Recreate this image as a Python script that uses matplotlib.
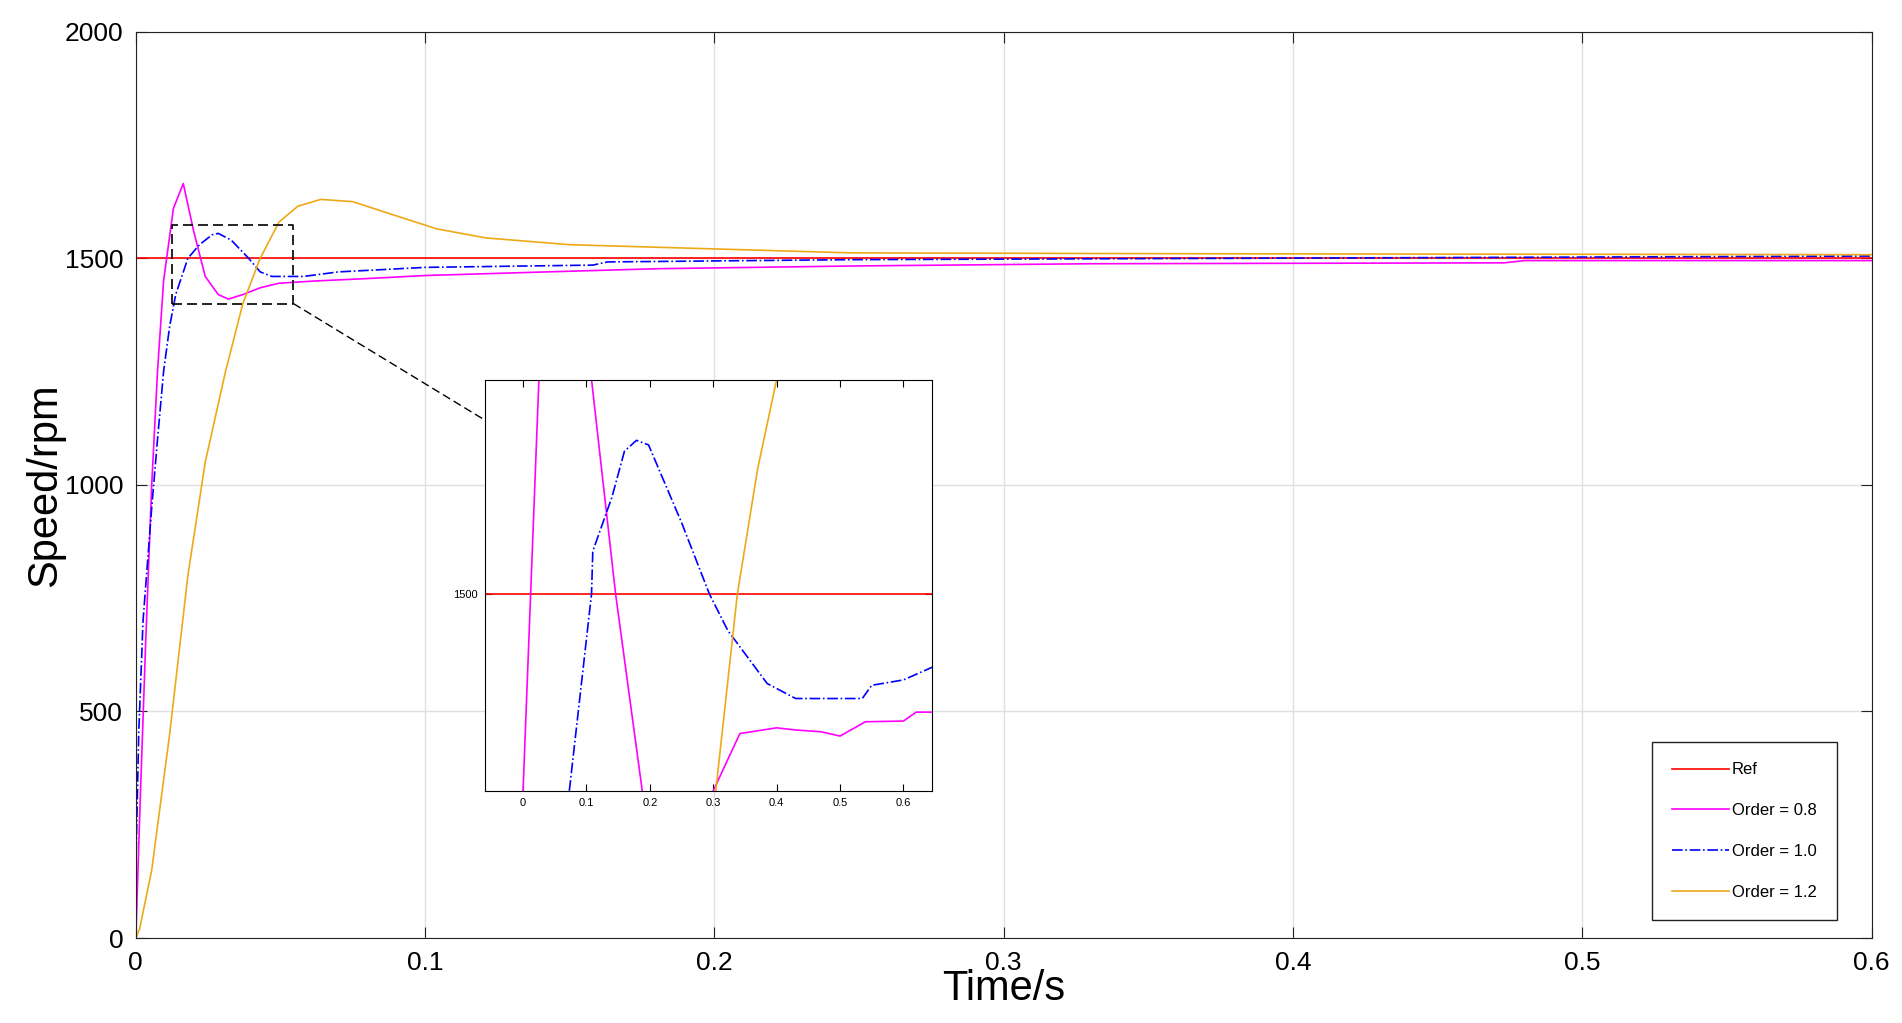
import matplotlib
matplotlib.use("Agg")
import matplotlib.pyplot as plt

plt.rcParams['font.family'] = ['Liberation Sans', 'DejaVu Sans']

# main curves (time in s, speed in rpm)
t_08 = [0, 0.0015, 0.0034, 0.0055, 0.0075, 0.0096, 0.013, 0.0164, 0.020, 0.024, 0.0285,
        0.032, 0.037, 0.043, 0.0495, 0.062, 0.079, 0.10, 0.142, 0.18, 0.247, 0.33,
        0.473, 0.48, 0.6]
v_08 = [0, 300, 650, 1000, 1250, 1450, 1610, 1665, 1560, 1460, 1420,
        1410, 1420, 1435, 1445, 1450, 1455, 1462, 1470, 1477, 1483, 1488,
        1490, 1495, 1495]

t_10 = [0, 0.001, 0.0025, 0.0055, 0.0075, 0.0096, 0.0117, 0.0138, 0.018, 0.022, 0.0264,
        0.0285, 0.033, 0.039, 0.043, 0.047, 0.058, 0.07, 0.10, 0.158, 0.163, 0.247, 0.6]
v_10 = [150, 450, 700, 950, 1100, 1250, 1350, 1420, 1500, 1530, 1552,
        1555, 1540, 1500, 1470, 1460, 1460, 1470, 1480, 1485, 1492, 1497, 1505]

t_12 = [0, 0.0013, 0.0055, 0.0117, 0.018, 0.024, 0.031, 0.037, 0.043, 0.0495, 0.056,
        0.064, 0.075, 0.087, 0.104, 0.121, 0.15, 0.204, 0.247, 0.372, 0.6]
v_12 = [0, 20, 150, 450, 800, 1050, 1250, 1400, 1500, 1580, 1615,
        1630, 1625, 1600, 1565, 1545, 1530, 1520, 1512, 1510, 1508]

ref_t = [0, 0.6]
ref_v = [1500, 1500]

# inset curves (inset's own x units)
in_t_08a = [0.0, 0.025]
in_v_08a = [1445, 1560]
in_t_08b = [0.108, 0.146, 0.188]
in_v_08b = [1560, 1500, 1445]
in_t_08c = [0.30, 0.342, 0.40, 0.43, 0.47, 0.50, 0.54, 0.60, 0.62, 0.646]
in_v_08c = [1445, 1461, 1462.6, 1462, 1461.5, 1460.3, 1464.3, 1464.5, 1467, 1467]

in_t_10 = [0.073, 0.108, 0.11, 0.14, 0.16, 0.179, 0.198, 0.25, 0.294, 0.323, 0.385, 0.43,
           0.535, 0.55, 0.60, 0.646]
in_v_10 = [1445, 1500, 1512, 1527, 1540, 1543, 1541.7, 1520, 1500, 1489.8, 1475, 1470.8,
           1470.8, 1474.5, 1476, 1479.6]

in_t_12 = [0.304, 0.338, 0.37, 0.40]
in_v_12 = [1445, 1500, 1535, 1560]

fig = plt.figure(figsize=(19.02, 10.23), dpi=100)
ax = fig.add_axes([0.0714, 0.083, 0.9126, 0.886])

ax.plot(ref_t, ref_v, color='red', lw=1.2, label='Ref')
ax.plot(t_08, v_08, color='magenta', lw=1.2, label='Order = 0.8')
ax.plot(t_10, v_10, color='blue', lw=1.2, ls='-.', label='Order = 1.0')
ax.plot(t_12, v_12, color='#EDA917', lw=1.2, label='Order = 1.2')

ax.set_xlim(0, 0.6)
ax.set_ylim(0, 2000)
ax.set_xticks([0, 0.1, 0.2, 0.3, 0.4, 0.5, 0.6])
ax.set_xticklabels(['0', '0.1', '0.2', '0.3', '0.4', '0.5', '0.6'])
ax.set_yticks([0, 500, 1000, 1500, 2000])
ax.grid(True, color='#e0e0e0', lw=1)
ax.tick_params(direction='in', top=True, right=True, labelsize=19, length=8,
               pad=9, color='#222222')
for s in ax.spines.values():
    s.set_color('#222222')
ax.set_xlabel('Time/s', fontsize=30, labelpad=-4)
ax.set_ylabel('Speed/rpm', fontsize=30, labelpad=0)

leg = ax.legend(loc='lower right', bbox_to_anchor=(0.98, 0.02), fontsize=12,
                labelspacing=1.55, borderpad=1.2, handlelength=3.4, handletextpad=0.2,
                borderaxespad=0, fancybox=False, edgecolor='#222222', framealpha=1)
leg.get_frame().set_linewidth(1)

# zoom box and connector
ax.plot([0.0126, 0.0545, 0.0545, 0.0126, 0.0126], [1400, 1400, 1574, 1574, 1400],
        color='black', ls='--', lw=1.2, dashes=(6, 3))
ax.plot([0.0545, 0.124], [1400, 1130], color='black', ls='--', lw=1, dashes=(6, 3))

ins = fig.add_axes([0.255, 0.227, 0.235, 0.402])
ins.plot([-0.1, 0.7], [1500, 1500], color='red', lw=1.2)
ins.plot(in_t_08a, in_v_08a, color='magenta', lw=1.2)
ins.plot(in_t_08b, in_v_08b, color='magenta', lw=1.2)
ins.plot(in_t_08c, in_v_08c, color='magenta', lw=1.2)
ins.plot(in_t_10, in_v_10, color='blue', lw=1.2, ls='-.')
ins.plot(in_t_12, in_v_12, color='#EDA917', lw=1.2)
ins.set_xlim(-0.06, 0.645)
ins.set_ylim(1445, 1560)
ins.set_xticks([0, 0.1, 0.2, 0.3, 0.4, 0.5, 0.6])
ins.set_xticklabels(['0', '0.1', '0.2', '0.3', '0.4', '0.5', '0.6'])
ins.set_yticks([1500])
ins.tick_params(direction='in', top=True, right=True, labelsize=8, length=5, pad=5)

fig.savefig('out.png', dpi=100)
